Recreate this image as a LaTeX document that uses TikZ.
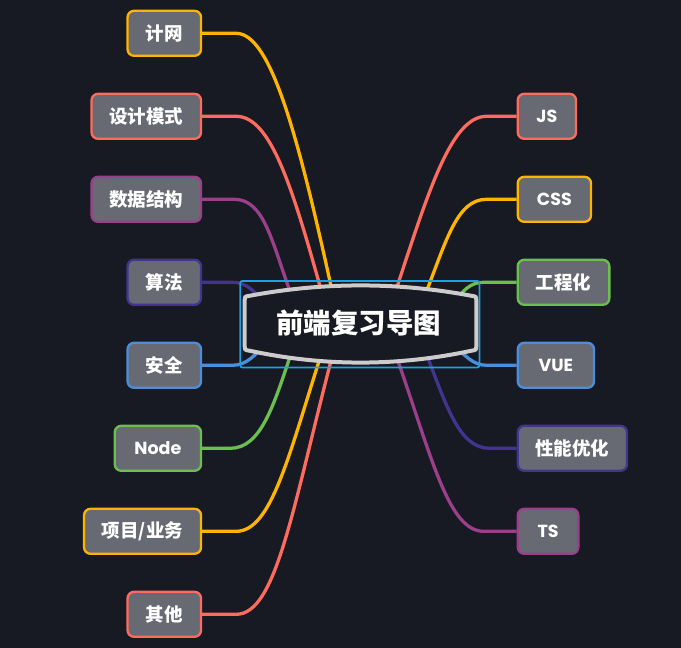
\documentclass[tikz,border=0pt]{standalone}
\usepackage{fontspec}
\setmainfont{Poppins}
\newfontfamily\cjk{Noto Sans CJK SC}
\definecolor{bg}{HTML}{171923}
\definecolor{cYel}{HTML}{FFB400}
\definecolor{cRed}{HTML}{FF6B5C}
\definecolor{cPur}{HTML}{9A3F8A}
\definecolor{cInd}{HTML}{43358F}
\definecolor{cBlu}{HTML}{4A8FDB}
\definecolor{cGrn}{HTML}{6BBF4F}
\definecolor{leafFill}{HTML}{686A73}
\definecolor{rootBorder}{HTML}{CCCCCC}
\definecolor{selBlue}{HTML}{1E9FE6}
\tikzset{
  leaf/.style={rectangle, rounded corners=6.5pt, line width=2.3pt, fill=leafFill,
    minimum height=45pt, inner xsep=0pt, inner ysep=0pt, text=white,
    font=\bfseries\fontsize{17.5}{20}\selectfont},
  lleaf/.style={leaf, anchor=east},
  rleaf/.style={leaf, anchor=west},
  conn/.style={line width=3.3pt},
  cjkleaf/.style={font=\cjk\bfseries\fontsize{18.5}{21}\selectfont},
}
\begin{document}
\begin{tikzpicture}[x=1pt,y=-1pt]
\fill[bg] (0,0) rectangle (681,648);
% left leaves
\node[lleaf, cjkleaf, draw=cYel, minimum width=73.5pt] (jiwang) at (202.2,33.3) {计网};
\node[lleaf, cjkleaf, draw=cRed, minimum width=109.5pt] (sheji) at (202.2,116.3) {设计模式};
\node[lleaf, cjkleaf, draw=cPur, minimum width=109.5pt] (shuju) at (202.2,199.3) {数据结构};
\node[lleaf, cjkleaf, draw=cInd, minimum width=73.5pt] (suanfa) at (202.2,282.3) {算法};
\node[lleaf, cjkleaf, draw=cBlu, minimum width=73.5pt] (anquan) at (202.2,365.3) {安全};
\node[lleaf, draw=cGrn, minimum width=86.3pt] (nodejs) at (202.2,448.3) {Node};
\node[lleaf, cjkleaf, draw=cYel, minimum width=117pt] (xiangmu) at (202.2,531.3) {项目/业务};
\node[lleaf, cjkleaf, draw=cRed, minimum width=73.5pt] (qita) at (202.2,614.3) {其他};
% right leaves
\node[rleaf, draw=cRed, minimum width=58.3pt] (js) at (516.6,116.3) {JS};
\node[rleaf, draw=cYel, minimum width=73.3pt] (css) at (516.6,199.3) {CSS};
\node[rleaf, cjkleaf, draw=cGrn, minimum width=91.6pt] (gch) at (516.6,282.3) {工程化};
\node[rleaf, draw=cBlu, minimum width=76.3pt] (vue) at (516.6,365.3) {VUE};
\node[rleaf, cjkleaf, draw=cInd, minimum width=109.3pt] (xn) at (516.6,448.3) {性能优化};
\node[rleaf, draw=cPur, minimum width=60.6pt] (ts) at (516.6,531.3) {TS};
% entry points under the root
\coordinate (s1) at (333,295);
\coordinate (s2) at (322.5,295);
\coordinate (s3) at (292,297);
\coordinate (s4) at (268,306);
\coordinate (s5) at (268,341);
\coordinate (s6) at (291,353.7);
\coordinate (s7) at (321,355);
\coordinate (s8) at (332,357);
\coordinate (r1) at (395.7,291);
\coordinate (r2) at (424.4,296.7);
\coordinate (r3) at (452,305);
\coordinate (r4) at (452,343);
\coordinate (r5) at (426.9,355.3);
\coordinate (r6) at (397.2,358.7);
% connectors
\draw[conn, cYel] (jiwang.east) -- ++(34,0) .. controls +(35,0) and +(-34.3,-156.3) .. (s1);
\draw[conn, cRed] (sheji.east) -- ++(34,0) .. controls +(35,0) and +(-29.7,-105.9) .. (s2);
\draw[conn, cPur] (shuju.east) -- ++(32,0) .. controls +(30,0) and +(-20.6,-56.3) .. (s3);
\draw[conn, cInd] (suanfa.east) -- ++(30,0) .. controls +(15,0) and +(-13,-14) .. (s4);
\draw[conn, cBlu] (anquan.east) -- ++(30,0) .. controls +(15,0) and +(-13,14) .. (s5);
\draw[conn, cGrn] (nodejs.east) -- ++(28,0) .. controls +(30,0) and +(-18,54.1) .. (s6);
\draw[conn, cYel] (xiangmu.east) -- ++(34,0) .. controls +(35,0) and +(-32.7,101.9) .. (s7);
\draw[conn, cRed] (qita.east) -- ++(34,0) .. controls +(40,0) and +(-39.6,152) .. (s8);
\draw[conn, cRed] (js.west) -- ++(-30,0) .. controls +(-35,0) and +(33.4,-101.7) .. (r1);
\draw[conn, cYel] (css.west) -- ++(-30,0) .. controls +(-30,0) and +(22,-55.8) .. (r2);
\draw[conn, cGrn] (gch.west) -- ++(-33,0) .. controls +(-13,0) and +(11,-15) .. (r3);
\draw[conn, cBlu] (vue.west) -- ++(-30,0) .. controls +(-13,0) and +(13,13) .. (r4);
\draw[conn, cInd] (xn.west) -- ++(-27,0) .. controls +(-30,0) and +(20.1,52.2) .. (r5);
\draw[conn, cPur] (ts.west) -- ++(-33,0) .. controls +(-35,0) and +(34.7,99.1) .. (r6);
% selection frame
\draw[selBlue, line width=1.7pt, rounded corners=2pt] (240.2,281) rectangle (479.4,367.4);
% root shape
\draw[rootBorder, line width=4pt, fill=bg]
  (244.7,304) -- (244.7,301) .. controls (244.7,296.5) .. (250,295.7)
  .. controls (323.7,282) and (397.3,282) .. (471,295.7)
  .. controls (476.3,296.5) .. (476.3,301) -- (476.3,345)
  .. controls (476.3,350) .. (471,350.8)
  .. controls (397.3,366.5) and (323.7,366.5) .. (250,350.8)
  .. controls (244.7,350) .. (244.7,345) -- cycle;
\node[text=white, font=\cjk\bfseries\fontsize{27.5}{30}\selectfont] (root) at (358.5,323) {前端复习导图};
\end{tikzpicture}
\end{document}
